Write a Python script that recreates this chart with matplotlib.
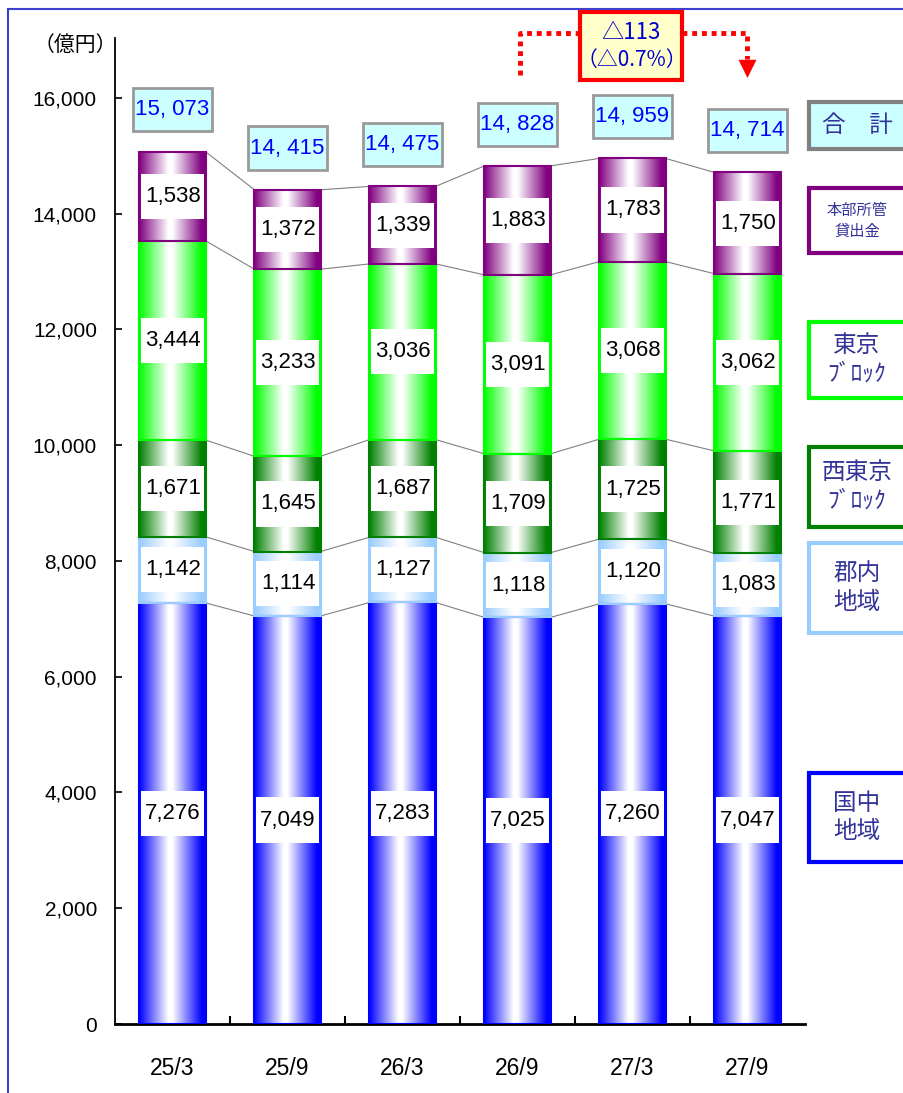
import numpy as np
import matplotlib.pyplot as plt
import matplotlib.colors as mcolors
from matplotlib.patches import Rectangle, Polygon
from matplotlib.lines import Line2D

# 貸出金残高（億円）
periods = ['25/3', '25/9', '26/3', '26/9', '27/3', '27/9']
kuninaka = [7276, 7049, 7283, 7025, 7260, 7047]
gunnai = [1142, 1114, 1127, 1118, 1120, 1083]
nishitokyo = [1671, 1645, 1687, 1709, 1725, 1771]
tokyo = [3444, 3233, 3036, 3091, 3068, 3062]
honbu = [1538, 1372, 1339, 1883, 1783, 1750]
totals = [15073, 14415, 14475, 14828, 14959, 14714]
change_text = ['△113', '（△0.7%）']

series = [kuninaka, gunnai, nishitokyo, tokyo, honbu]
colors = ['#0000ff', '#99ccff', '#008000', '#00ff00', '#800080']
names = ['国中\n地域', '郡内\n地域', '西東京\nﾌﾞﾛｯｸ', '東京\nﾌﾞﾛｯｸ', '本部所管\n貸出金']

NUM = ['Liberation Sans', 'DejaVu Sans']
JP = ['Noto Sans CJK JP', 'DejaVu Sans']

W, H = 904, 1093
fig = plt.figure(figsize=(W / 100, H / 100), dpi=100)
ax = fig.add_axes([115 / W, 1 - 1024 / H, 690 / W, (1024 - 38) / H])

bw = 0.575
t = np.linspace(0, 1, 200)
wt = np.clip(1 - (np.abs(t - 0.47) - 0.03) / 0.44, 0, 1)


def shade(color):
    rgb = np.array(mcolors.to_rgb(color))
    img = rgb[None, :] * (1 - wt[:, None]) + wt[:, None]
    return img[None, :, :]


x = np.arange(len(periods))
stack = np.array(series)
cum = np.cumsum(stack, axis=0)
bottoms = cum - stack

for s, c in enumerate(colors):
    for i in x:
        b, v = bottoms[s, i], stack[s, i]
        ax.imshow(shade(c), extent=[i - bw / 2, i + bw / 2, b, b + v],
                  aspect='auto', interpolation='bilinear', zorder=2)
        ax.add_patch(Rectangle((i - bw / 2, b), bw, v, fill=False, ec=c, lw=1.5, zorder=3))
        mid = b + v / 2
        ax.add_patch(Rectangle((i - 0.27, mid - 390), 0.545, 780, fc='white', ec='none', zorder=4))
        ax.text(i + 0.005, mid, f'{v:,}', ha='center', va='center', fontsize=16,
                family=NUM, zorder=5)

# 区分の境目をつなぐ線
for lvl in range(cum.shape[0]):
    for i in x[:-1]:
        ax.plot([i + bw / 2, i + 1 - bw / 2], [cum[lvl, i], cum[lvl, i + 1]],
                color='#808080', lw=0.8, zorder=1)

# 合計ラベル
for i, tot in zip(x, totals):
    cy = tot + 720
    ax.add_patch(Rectangle((i - 0.345, cy - 372), 0.69, 744, fc='#ccffff', ec='#999999',
                           lw=2, zorder=4, clip_on=False))
    ax.text(i, cy, f'{tot:,}'.replace(',', ', '), ha='center', va='center', fontsize=16,
            family=NUM, color='#0000ff', zorder=5)

# 前年同期比
ax.plot([3.02, 3.02, 3.543], [16400, 17125, 17125], color='red', lw=3.5,
        ls=(0, (1, 1)), dash_capstyle='butt', clip_on=False, zorder=6)
ax.plot([4.43, 5.0, 5.0], [17125, 17125, 16680], color='red', lw=3.5,
        ls=(0, (1, 1)), dash_capstyle='butt', clip_on=False, zorder=6)
ax.add_patch(Polygon([[4.922, 16660], [5.078, 16660], [5.0, 16345]], closed=True,
                     fc='red', ec='none', clip_on=False, zorder=6))
ax.add_patch(Rectangle((3.543, 16312), 0.887, 1175, fc='#ffffcc', ec='red', lw=3,
                       clip_on=False, zorder=6))
ax.text(3.99, 17125, change_text[0], ha='center', va='center', fontsize=16,
        family=JP, color='#0000cc', zorder=7)
ax.text(3.99, 16658, change_text[1], ha='center', va='center', fontsize=15,
        family=JP, color='#0000cc', zorder=7)

ax.set_xlim(-0.5, 5.5)
ax.set_ylim(0, 17036)
ax.spines['top'].set_visible(False)
ax.spines['right'].set_visible(False)
ax.spines['left'].set_linewidth(1.3)
ax.spines['bottom'].set_linewidth(2)

ax.set_yticks(np.arange(0, 16001, 2000))
ax.set_yticklabels([f'{v:,}' for v in range(0, 16001, 2000)], family=NUM, fontsize=15)
ax.tick_params(axis='y', direction='in', length=5, width=1.2, pad=13)
ax.set_xticks(x)
ax.set_xticklabels(periods, family=NUM, fontsize=16.5)
ax.tick_params(axis='x', which='major', length=0, pad=24)
ax.set_xticks(x[:-1] + 0.5, minor=True)
ax.tick_params(axis='x', which='minor', direction='in', length=6, width=1.5)

fig.text(75 / W, 1 - 45 / H, '（億円）', ha='center', va='center', fontsize=15, family=JP)

# 凡例ボックス
legend_boxes = [(773, 862), (543, 633), (447, 527), (322, 398), (188, 253)]
for (y0, y1), c, n in zip(legend_boxes, colors, names):
    fig.add_artist(Rectangle((809 / W, 1 - y1 / H), 110 / W, (y1 - y0) / H,
                             transform=fig.transFigure, fc='white', ec=c, lw=3))
    fs = 11 if n.startswith('本部') else 17
    fig.text(857 / W, 1 - (y0 + y1) / 2 / H, n, ha='center', va='center', fontsize=fs,
             family=JP, color='#333399', linespacing=1.3)
fig.add_artist(Rectangle((809 / W, 1 - 149 / H), 110 / W, 47 / H,
                         transform=fig.transFigure, fc='#ccffff', ec='#808080', lw=3))
fig.text(857 / W, 1 - 125 / H, '合　計', ha='center', va='center', fontsize=17,
         family=JP, color='#333399')

# 外枠
fig.add_artist(Line2D([8 / W, 8 / W], [0, 1 - 9 / H], transform=fig.transFigure,
                      color='#4040d0', lw=1.5))
fig.add_artist(Line2D([8 / W, 1], [1 - 9 / H, 1 - 9 / H], transform=fig.transFigure,
                      color='#4040d0', lw=1.5))

fig.savefig('out.png', dpi=100)
